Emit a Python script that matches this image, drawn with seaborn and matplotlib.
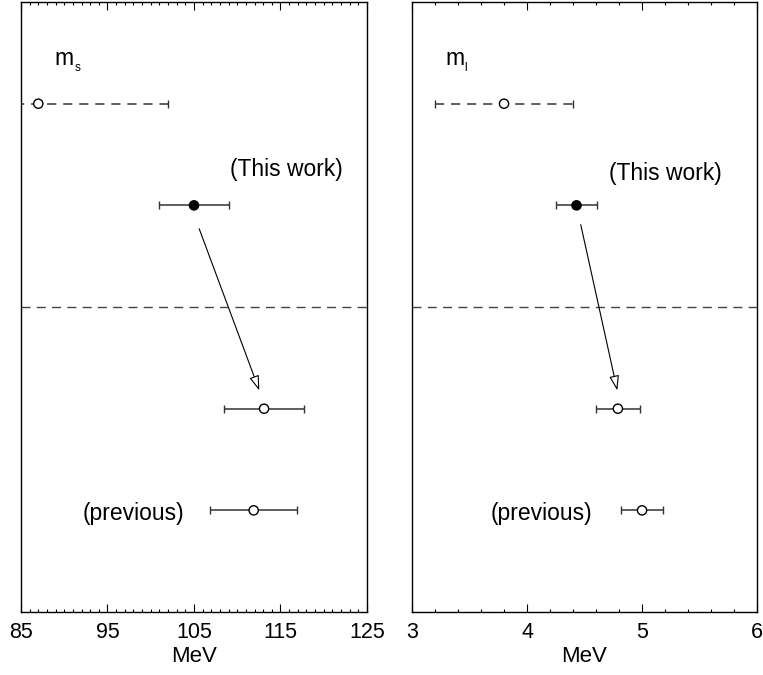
import numpy as np
import pandas as pd
import seaborn as sns
import matplotlib
matplotlib.use("Agg")
import matplotlib.pyplot as plt
from matplotlib.ticker import MultipleLocator
from matplotlib.transforms import offset_copy

# Row positions (from top) of the four determinations
rows = [1, 2, 4, 5]

# Strange quark mass (MeV): central values and half-widths
ms_center = [87.0, 105.0, 113.1, 111.9]
ms_err = [15.0, 4.0, 4.65, 5.0]

# Light quark mass (MeV)
ml_center = [3.8, 4.43, 4.79, 5.0]
ml_err = [0.6, 0.18, 0.19, 0.18]

# Marker fill and error-bar style for each row
fills = ["white", "black", "white", "white"]
bar_styles = ["--", "-", "-", "-"]

# Row separating the two groups
separator_row = 3

sns.set_style("ticks")
plt.rcParams["font.family"] = ["Liberation Sans", "DejaVu Sans"]
plt.rcParams["text.color"] = "black"
plt.rcParams["axes.labelcolor"] = "black"
plt.rcParams["xtick.color"] = "black"
plt.rcParams["xtick.labelcolor"] = "black"

fig = plt.figure(figsize=(7.63, 6.75), dpi=100)
ax_s = fig.add_axes([0.0275, 0.0933, 0.4535, 0.9037])
ax_l = fig.add_axes([0.540, 0.0933, 0.4522, 0.9037])

panels = [
    dict(ax=ax_s, center=ms_center, err=ms_err, xlim=(85, 125), major=10, minor=1,
         sym="m", sub="s", sym_xy=(88.9, 0.62), sub_x=91.2,
         this_xy=(109.2, 1.71), prev_xy=(92.1, 5.09),
         arrow=((105.6, 2.23), (112.55, 3.82))),
    dict(ax=ax_l, center=ml_center, err=ml_err, xlim=(3, 6), major=1, minor=0.2,
         sym="m", sub="l", sym_xy=(3.287, 0.62), sub_x=3.452,
         this_xy=(4.716, 1.75), prev_xy=(3.68, 5.09),
         arrow=((4.467, 2.19), (4.785, 3.82))),
]

for p in panels:
    ax = p["ax"]
    df = pd.DataFrame({"value": p["center"], "err": p["err"], "row": rows,
                       "fill": fills, "style": bar_styles})

    # horizontal error bars
    for _, r in df.iterrows():
        eb = ax.errorbar(r["value"], r["row"], xerr=r["err"], fmt="none",
                         ecolor="#333333", elinewidth=1.1, capsize=3.2,
                         capthick=1.0, zorder=2)
        eb[2][0].set_linestyle((0, (6.0, 4.5)) if r["style"] == "--" else "-")
        for cap in eb[1]:
            cap.set_color("black")

    # central values
    sns.scatterplot(data=df, x="value", y="row", ax=ax, s=44,
                    color="black", edgecolor="black", linewidth=1.0,
                    zorder=3, legend=False)
    ax.collections[-1].set_facecolors(df["fill"].tolist())

    # dashed separator between the groups
    ax.axhline(separator_row, color="#444444", lw=1.0, ls=(0, (6.5, 4.5)), zorder=1)

    # arrow from this work to the shifted value
    (x0, y0), (x1, y1) = p["arrow"]
    ax.annotate("", xy=(x1, y1), xytext=(x0, y0),
                arrowprops=dict(arrowstyle="-|>,head_length=0.9,head_width=0.3",
                                fc="white", ec="black", lw=0.8,
                                shrinkA=0, shrinkB=0))

    # labels inside the panel
    ax.text(*p["sym_xy"], p["sym"], fontsize=16.5, va="baseline", ha="left")
    sub_tr = offset_copy(ax.transData, fig=fig, x=0, y=-6, units="dots")
    ax.text(p["sub_x"], p["sym_xy"][1], p["sub"], fontsize=8.5,
            va="baseline", ha="left", transform=sub_tr)
    ax.text(*p["this_xy"], "(This work)", fontsize=16.5, va="baseline", ha="left")
    ax.text(*p["prev_xy"], "(previous)", fontsize=16.5, va="baseline", ha="left")

    ax.set_xlim(*p["xlim"])
    ax.set_ylim(6, 0)
    ax.set_ylabel("")
    ax.set_yticks([])
    ax.set_xticks(np.arange(p["xlim"][0], p["xlim"][1] + 1e-9, p["major"]))
    ax.xaxis.set_minor_locator(MultipleLocator(p["minor"]))
    ax.tick_params(axis="x", which="both", direction="in", top=True, bottom=True,
                   labelsize=15.5, pad=7, color="black", width=0.8)
    ax.tick_params(axis="x", which="major", length=6)
    ax.tick_params(axis="x", which="minor", length=2.5)
    ax.set_xlabel("MeV", fontsize=16, labelpad=2)
    for sp in ax.spines.values():
        sp.set_visible(True)
        sp.set_color("black")
        sp.set_linewidth(1.0)

fig.savefig("out.png", dpi=100)
